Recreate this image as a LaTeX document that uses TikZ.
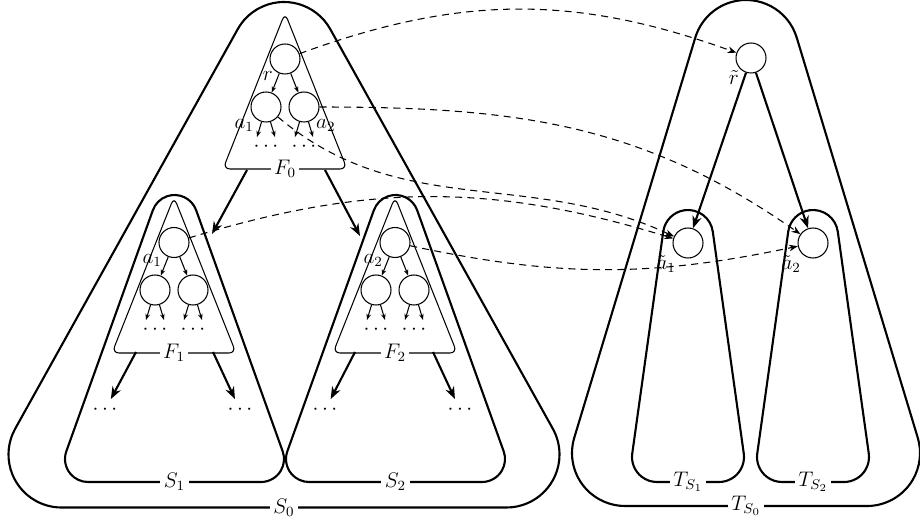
\documentclass[tikz,border=0pt]{standalone}
\usetikzlibrary{arrows.meta,calc}

% rounded triangle: name, centre x, y of apex centre, y of base centres, half width, radius, label
\newcommand{\rtri}[7]{%
  \pgfmathsetmacro\sideang{atan(#5/(#3-#4))}
  \pgfmathsetmacro\sideangb{180-\sideang}
  \pgfmathsetmacro\sideangc{360+\sideang}
  \draw[outline] ({#2+#6*cos(\sideang)},{#3+#6*sin(\sideang)})
    arc[start angle=\sideang, end angle=\sideangb, radius=#6]
    -- ({#2-#5+#6*cos(\sideangb)},{#4+#6*sin(\sideangb)})
    arc[start angle=\sideangb, end angle=270, radius=#6]
    -- ({#2+#5},{#4-#6})
    arc[start angle=270, end angle=\sideangc, radius=#6]
    -- cycle;
  \node[slabel] (#1) at (#2,{#4-#6}) {#7};
}
% small triangle of a forest: name, apex x, apex y, label
\newcommand{\ftri}[4]{%
  \draw[ftri] (#2,#3) -- ({#2-1.24},{#3-3.12}) -- ({#2+1.24},{#3-3.12}) -- cycle;
  \node[slabel] (#1) at (#2,{#3-3.12}) {#4};
}

\begin{document}
\begin{tikzpicture}
\tikzset{
  every node/.style={font=\large},
  outline/.style={line width=1.2pt},
  ftri/.style={semithick, rounded corners=4pt},
  slabel/.style={fill=white, inner sep=2pt},
  vertex/.style={draw, semithick, circle, minimum size=0.6cm, inner sep=0pt},
  vlabel/.style={inner sep=0.5pt},
  down/.style={line width=1.2pt, -{Stealth[length=7pt]}},
  small/.style={semithick, -{Stealth[length=3.5pt]}},
  map/.style={semithick, dash pattern=on 4pt off 3pt, -{Stealth[length=5pt]}},
}
\useasboundingbox (0,0) rectangle (18.4,10.48);

% the trees S and T
\rtri{S0}{5.68}{9.38}{1.39}{4.45}{1.06}{$S_0$}
\rtri{S1}{3.49}{6.12}{1.30}{1.73}{0.46}{$S_1$}
\rtri{S2}{7.91}{6.12}{1.30}{1.73}{0.46}{$S_2$}
\rtri{T0}{14.92}{9.42}{1.42}{2.42}{1.06}{$T_{S_0}$}
\rtri{T1}{13.76}{5.78}{1.34}{0.62}{0.5}{$T_{S_1}$}
\rtri{T2}{16.26}{5.78}{1.34}{0.62}{0.5}{$T_{S_2}$}

% the forests F
\ftri{F0}{5.70}{10.22}{$F_0$}
\ftri{F1}{3.48}{6.54}{$F_1$}
\ftri{F2}{7.90}{6.54}{$F_2$}

% vertices
\node[vertex, label={[vlabel]below left:$r$}] (r) at (5.70,9.30) {};
\node[vertex, label={[vlabel]below left:$a_1$}] (a1) at (5.32,8.34) {};
\node[vertex, label={[vlabel]below right:$a_2$}] (a2) at (6.08,8.34) {};
\node[vertex, label={[vlabel]below left:$a_1$}] (b) at (3.48,5.63) {};
\node[vertex] (b1) at (3.10,4.68) {};
\node[vertex] (b2) at (3.86,4.68) {};
\node[vertex, label={[vlabel]below left:$a_2$}] (c) at (7.90,5.63) {};
\node[vertex] (c1) at (7.52,4.68) {};
\node[vertex] (c2) at (8.28,4.68) {};
\node[vertex, label={[vlabel]below left:$\tilde{r}$}] (rt) at (15.02,9.32) {};
\node[vertex, label={[vlabel]below left:$\tilde{a}_1$}] (at1) at (13.76,5.62) {};
\node[vertex, label={[vlabel]below left:$\tilde{a}_2$}] (at2) at (16.26,5.62) {};

\draw[small] (r) -- (a1);
\draw[small] (r) -- (a2);
\draw[small] (b) -- (b1);
\draw[small] (b) -- (b2);
\draw[small] (c) -- (c1);
\draw[small] (c) -- (c2);
\foreach \v in {a1,a2,b1,b2,c1,c2} {
  \coordinate (\v-l) at ($(\v)+(-0.18,-0.6)$);
  \coordinate (\v-r) at ($(\v)+(0.18,-0.6)$);
  \node (\v-d) at ($(\v)+(0,-0.8)$) {$\cdots$};
  \draw[small] (\v) -- (\v-l);
  \draw[small] (\v) -- (\v-r);
}

% from the forests to the subtrees
\coordinate (F0l) at (4.94,7.08);
\coordinate (F0r) at (6.50,7.08);
\coordinate (S1in) at (4.24,5.80);
\coordinate (S2in) at (7.20,5.76);
\draw[down] (F0l) -- (S1in);
\draw[down] (F0r) -- (S2in);
\coordinate (F1l) at (2.72,3.44);
\coordinate (F1r) at (4.26,3.44);
\coordinate (F2l) at (7.10,3.44);
\coordinate (F2r) at (8.66,3.44);
\node (F1ld) at (2.10,2.28) {$\cdots$};
\node (F1rd) at (4.80,2.28) {$\cdots$};
\node (F2ld) at (6.50,2.28) {$\cdots$};
\node (F2rd) at (9.20,2.28) {$\cdots$};
\draw[down] (F1l) -- (F1ld);
\draw[down] (F1r) -- (F1rd);
\draw[down] (F2l) -- (F2ld);
\draw[down] (F2r) -- (F2rd);
\draw[down] (rt) -- (at1);
\draw[down] (rt) -- (at2);

% the map
\draw[map] (r) to[bend left=20] (rt);
\draw[map] (a2) to[out=0, in=145] (at2);
\draw[map] (a1) to[out=-40, in=155] (at1);
\draw[map] (b) to[bend left=17] (at1);
\draw[map] (c) to[bend right=12] (at2);
\end{tikzpicture}
\end{document}
